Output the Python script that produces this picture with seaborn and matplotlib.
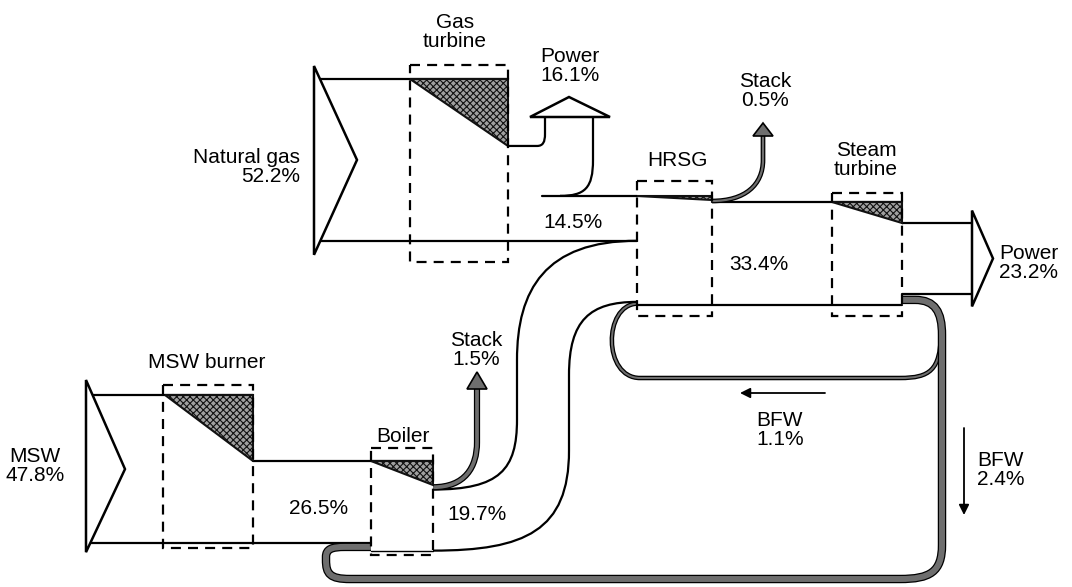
import numpy as np
import pandas as pd
import matplotlib.pyplot as plt
import matplotlib.patheffects as pe
from matplotlib.path import Path
from matplotlib.patches import PathPatch, Polygon, Rectangle
import seaborn as sns

# exergy streams, % of total fuel input
fuel_labels = ["Natural gas", "MSW"]
fuel_pct = [52.2, 47.8]
power_pct = [16.1, 23.2]      # gas turbine, steam turbine
stack_pct = [0.5, 1.5]        # HRSG, boiler
bfw_pct = [1.1, 2.4]          # back to HRSG, back to boiler
link_labels = ["GT exhaust", "MSW flue gas", "Boiler steam", "HRSG steam"]
link_pct = [14.5, 26.5, 19.7, 33.4]
unit_labels = ["Gas\nturbine", "HRSG", "Steam\nturbine", "MSW burner", "Boiler"]

sns.set_theme(style="white")
plt.rcParams["font.family"] = ["Liberation Sans", "DejaVu Sans"]
plt.rcParams["hatch.color"] = "#2a2a2a"
plt.rcParams["hatch.linewidth"] = 0.8

K = 3.1      # px per percent
LW = 1.6
PX = 0.72    # px -> pt at 100 dpi
FS = 15

# losses inside each unit (the shaded wedges)
gt_loss = fuel_pct[0] - power_pct[0] - link_pct[0]
hrsg_loss = link_pct[0] + link_pct[2] + bfw_pct[0] - stack_pct[0] - link_pct[3]
st_loss = link_pct[3] - power_pct[1] - bfw_pct[0] - bfw_pct[1]
mb_loss = fuel_pct[1] - link_pct[1]
bo_loss = link_pct[1] + bfw_pct[1] - stack_pct[1] - link_pct[2]

# unit columns (layout only)
x_ng, x_msw, x_out = 314, 86, 972
gt_x = (410, 508)
hrsg_x = (637, 712)
st_x = (832, 902)
mb_x = (163, 253)
bo_x = (371, 433)

# stacking of the streams
ng_top = 79
ng_bot = ng_top + fuel_pct[0] * K
p1_top = ng_top + gt_loss * K
ex_top = p1_top + power_pct[0] * K
hr_in = ng_bot + link_pct[2] * K
hr_bot = hr_in + bfw_pct[0] * K
s_top = ex_top + (hrsg_loss + stack_pct[0]) * K
p2_top = s_top + st_loss * K
p2_bot = p2_top + power_pct[1] * K
bfw_mid = (p2_bot + hr_bot) / 2

msw_top = 395
msw_bot = msw_top + fuel_pct[1] * K
fl_top = msw_top + mb_loss * K
bo_bot = msw_bot + bfw_pct[1] * K
bs_top = fl_top + bo_loss * K
b_top = bs_top + stack_pct[1] * K

fig = plt.figure(figsize=(10.72, 5.87), dpi=100)
ax = fig.add_axes([0, 0, 1, 1])


def make_path(ops):
    verts, codes = [], []
    for op in ops:
        if op[0] == "M":
            verts.append(op[1]); codes.append(Path.MOVETO)
        elif op[0] == "L":
            verts.append(op[1]); codes.append(Path.LINETO)
        else:
            verts += [op[1], op[2], op[3]]; codes += [Path.CURVE4] * 3
    return Path(verts, codes)


def outline(ops, lw=LW, z=2):
    ax.add_patch(PathPatch(make_path(ops), fill=False, lw=lw, ec="black", zorder=z, capstyle="butt"))


def pipe(ops, pct, z=2, minw=3.0):
    w = max(pct * K, minw) * PX
    ax.add_patch(PathPatch(make_path(ops), fill=False, lw=w, ec="#6e6e6e", zorder=z,
                           capstyle="butt", joinstyle="round",
                           path_effects=[pe.Stroke(linewidth=w + 1.8, foreground="black"), pe.Normal()]))


# straight stream edges
edges = [
    ("ng top", x_ng, gt_x[1], ng_top),
    ("ng bottom", x_ng, hrsg_x[0], ng_bot),
    ("exhaust top", 542, hrsg_x[0], ex_top),
    ("hrsg steam top", hrsg_x[1], st_x[1], s_top),
    ("hrsg steam bottom", hrsg_x[0], st_x[1], hr_bot),
    ("power top", st_x[1], x_out, p2_top),
    ("power bottom", st_x[1], x_out, p2_bot),
    ("msw top", x_msw, mb_x[1], msw_top),
    ("msw bottom", x_msw, bo_x[0], msw_bot),
    ("flue top", mb_x[1], bo_x[1], fl_top),
]
rows = []
for name, x0, x1, y in edges:
    rows += [{"edge": name, "x": x0, "y": y}, {"edge": name, "x": x1, "y": y}]
edge_df = pd.DataFrame(rows)
sns.lineplot(data=edge_df, x="x", y="y", units="edge", estimator=None, sort=False,
             color="black", lw=LW, legend=False, ax=ax)
ax.plot([bo_x[0], bo_x[1]], [bo_bot, bo_bot], color="black", lw=1.0)

# shaded loss wedges
wedges = [
    [(gt_x[0], ng_top), (gt_x[1], ng_top), (gt_x[1], p1_top)],
    [(hrsg_x[0], ex_top), (hrsg_x[1], ex_top), (hrsg_x[1], ex_top + hrsg_loss * K)],
    [(st_x[0], s_top), (st_x[1], s_top), (st_x[1], p2_top)],
    [(mb_x[0] + 2, msw_top), (mb_x[1], msw_top), (mb_x[1], fl_top)],
    [(bo_x[0], fl_top), (bo_x[1], fl_top), (bo_x[1], bs_top)],
]
for w in wedges:
    ax.add_patch(Polygon(w, closed=True, fc="#a0a0a0", ec="#111111", lw=1.5, hatch="xxxxx", zorder=3))

# dashed unit boxes
boxes = [
    (gt_x, ng_top - 14, ng_bot + 21),
    (hrsg_x, ex_top - 15, hr_bot + 11),
    (st_x, s_top - 9, hr_bot + 11),
    (mb_x, msw_top - 10, msw_bot + 5),
    (bo_x, fl_top - 13, bo_bot + 4),
]
for (x0, x1), y0, y1 in boxes:
    ax.add_patch(Rectangle((x0, y0), x1 - x0, y1 - y0, fill=False, ec="black", lw=1.6,
                           ls=(0, (4.5, 3.2)), zorder=4))

# inlet / outlet tails
ng_mid = (ng_top + ng_bot) / 2
msw_mid = (msw_top + msw_bot) / 2
p2_mid = (p2_top + p2_bot) / 2
tails = [
    [(x_ng, ng_top - 13), (x_ng + 43, ng_mid), (x_ng, ng_bot + 14)],
    [(x_msw, msw_top - 15), (x_msw + 39, msw_mid), (x_msw, msw_bot + 9)],
    [(x_out, p2_top - 12), (x_out + 21, p2_mid), (x_out, p2_bot + 12)],
]
for t in tails:
    ax.add_patch(Polygon(t, closed=True, fc="white", ec="black", lw=1.8, zorder=5))

# gas turbine power turning up
outline([("M", (gt_x[1], p1_top)), ("L", (537, p1_top)),
         ("C", (543, p1_top), (545, p1_top - 4), (545, p1_top - 12)), ("L", (545, 117))])
outline([("M", (593, 117)), ("L", (593, 160)),
         ("C", (593, 188), (585, ex_top), (560, ex_top))])
ax.add_patch(Polygon([(530, 117), (610, 117), (569, 97)], closed=True, fc="white", ec="black",
                     lw=1.8, zorder=5))

# boiler steam to HRSG
outline([("M", (bo_x[1], b_top)), ("C", (500, b_top), (517, b_top - 20), (517, b_top - 70)),
         ("L", (517, 360)), ("C", (517, 290), (545, ng_bot), (hrsg_x[0], ng_bot))])
outline([("M", (bo_x[1], bo_bot)), ("C", (525, bo_bot), (569, bo_bot - 20), (569, bo_bot - 100)),
         ("L", (569, 375)), ("C", (569, 320), (590, hr_in), (hrsg_x[0], hr_in))])

# stacks
y = ex_top + (hrsg_loss + stack_pct[0] / 2) * K
pipe([("M", (hrsg_x[1], y)), ("C", (745, y), (763, 185), (763, 160)), ("L", (763, 136))],
     stack_pct[0], minw=2.2)
ax.add_patch(Polygon([(753, 136), (773, 136), (763, 123)], closed=True, fc="#6e6e6e", ec="black",
                     lw=1.2, zorder=5))
y = bs_top + stack_pct[1] / 2 * K
pipe([("M", (bo_x[1], y)), ("C", (465, y), (477, y - 20), (477, y - 45)), ("L", (477, 389))],
     stack_pct[1] * 0.8)
ax.add_patch(Polygon([(467, 389), (487, 389), (477, 372)], closed=True, fc="#6e6e6e", ec="black",
                     lw=1.2, zorder=5))

# boiler feed water loops
yb = msw_bot + bfw_pct[1] / 2 * K
pipe([("M", (st_x[1], bfw_mid)), ("L", (915, bfw_mid)),
      ("C", (935, bfw_mid), (942, bfw_mid + 12), (942, bfw_mid + 35)), ("L", (942, 545)),
      ("C", (942, 572), (930, 579), (900, 579)), ("L", (350, 579)),
      ("C", (330, 579), (326, 574), (326, 560)), ("L", (326, yb + 10)),
      ("C", (326, yb + 2), (332, yb), (345, yb)), ("L", (bo_x[0], yb))], bfw_pct[1] * 0.8)
pipe([("M", (941, 335)), ("C", (940, 370), (930, 378), (900, 378)), ("L", (640, 378)),
      ("C", (603, 378), (603, hr_bot), (hrsg_x[0], hr_bot - bfw_pct[0] / 2 * K))],
     bfw_pct[0] * 0.6, z=1, minw=1.2)

arrow = dict(arrowstyle="-|>", lw=1.3, color="black", mutation_scale=15, shrinkA=0, shrinkB=0)
ax.annotate("", xy=(740, 393), xytext=(825, 393), arrowprops=arrow)
ax.annotate("", xy=(964, 515), xytext=(964, 428), arrowprops=arrow)

# labels
txt = dict(fontsize=FS, color="black", linespacing=1.02, zorder=6)
ax.text(455, 32, unit_labels[0], ha="center", va="center", **txt)
ax.text(677, 160, unit_labels[1], ha="center", va="center", **txt)
ax.text(866, 160, unit_labels[2], ha="center", va="center", **txt)
ax.text(207, 363, unit_labels[3], ha="center", va="center", **txt)
ax.text(403, 437, unit_labels[4], ha="center", va="center", **txt)

ax.text(300, 167, f"{fuel_labels[0]}\n{fuel_pct[0]:.1f}%", ha="right", va="center",
        multialignment="right", **txt)
ax.text(35, 466, f"{fuel_labels[1]}\n{fuel_pct[1]:.1f}%", ha="center", va="center", **txt)
ax.text(570, 66, f"Power\n{power_pct[0]:.1f}%", ha="center", va="center", **txt)
ax.text(999, 263, f"Power\n{power_pct[1]:.1f}%", ha="left", va="center", **txt)
ax.text(765, 91, f"Stack\n{stack_pct[0]:.1f}%", ha="center", va="center", **txt)
ax.text(476, 350, f"Stack\n{stack_pct[1]:.1f}%", ha="center", va="center", **txt)
ax.text(780, 430, f"BFW\n{bfw_pct[0]:.1f}%", ha="center", va="center", **txt)
ax.text(977, 470, f"BFW\n{bfw_pct[1]:.1f}%", ha="left", va="center", **txt)
ax.text(573, 222, f"{link_pct[0]:.1f}%", ha="center", va="center", **txt)
ax.text(319, 508, f"{link_pct[1]:.1f}%", ha="center", va="center", **txt)
ax.text(477, 515, f"{link_pct[2]:.1f}%", ha="center", va="center", **txt)
ax.text(759, 265, f"{link_pct[3]:.1f}%", ha="center", va="center", **txt)

ax.set_xlim(0, 1072)
ax.set_ylim(587, 0)
ax.axis("off")
fig.savefig("out.png", dpi=100, facecolor="white")
